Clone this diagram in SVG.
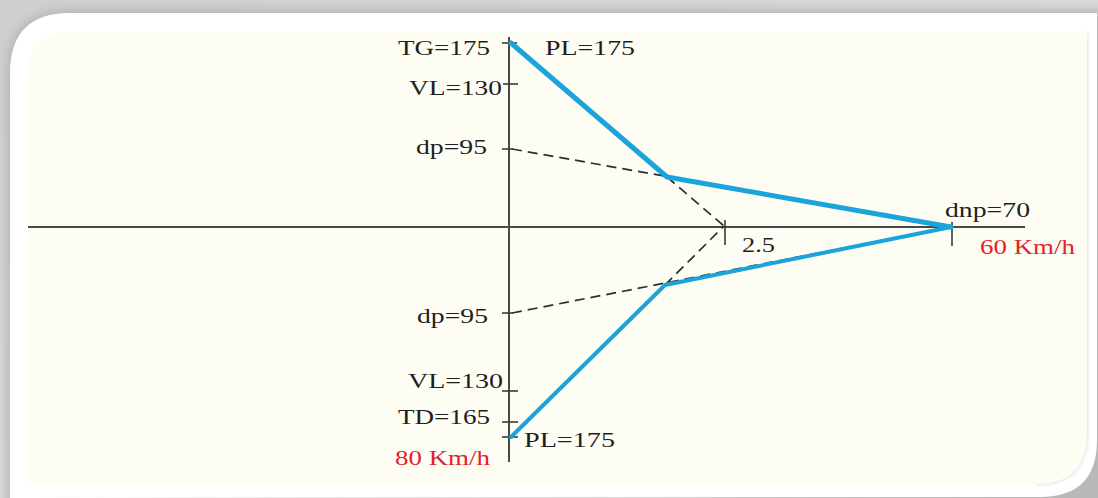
<svg xmlns="http://www.w3.org/2000/svg" width="1098" height="498" viewBox="0 0 1098 498">
  <defs>
    <linearGradient id="bgGrad" x1="0" y1="0" x2="1" y2="1">
      <stop offset="0" stop-color="#cfcfcf"/>
      <stop offset="1" stop-color="#e6e6e6"/>
    </linearGradient>
    <filter id="blur" x="-5%" y="-5%" width="110%" height="110%">
      <feGaussianBlur stdDeviation="5"/>
    </filter>
    <filter id="blur2" x="-5%" y="-5%" width="110%" height="110%">
      <feGaussianBlur stdDeviation="1.5"/>
    </filter>
  </defs>
  <style>
    .axis { stroke: #4a4a4a; stroke-width: 2; fill: none; }
    .tick { stroke: #3a3a3a; stroke-width: 1.6; fill: none; }
    .dash { stroke: #2e2e2e; stroke-width: 1.7; stroke-dasharray: 10 6; fill: none; }
    .blue { stroke: #1ba3dc; fill: none; stroke-linejoin: round; stroke-linecap: round; }
    .lbl { font-family: "Liberation Serif", "Times New Roman", serif; font-size: 20px; fill: #1e1e1e; }
    .red { font-family: "Liberation Serif", "Times New Roman", serif; font-size: 20px; fill: #e4202a; }
  </style>

  <!-- background / frame -->
  <rect x="0" y="0" width="1098" height="498" fill="url(#bgGrad)"/>
  <path d="M6,73 Q6,9 70,9 L1110,9 L1110,510 L6,510 Z" fill="#b8b8b8" filter="url(#blur)"/>
  <path d="M10,73 Q10,13 70,13 L1097,13 L1097,440 Q1097,497 1040,497 L10,498 Z" fill="#ffffff"/>
  <path d="M1087,33 L1087,432 Q1087,484 1037,484" fill="none" stroke="#dcdcdc" stroke-width="2" filter="url(#blur2)"/>
  <path d="M73,32 L1087,32 L1087,432 Q1087,484 1037,484 L28,484 L28,77 Q28,32 73,32 Z" fill="#fdfdf4"/>

  <!-- connectors / plot lines -->
  <g id="connectors">
    <line class="axis" x1="28" y1="227" x2="1025" y2="227"/>
    <line class="axis" x1="509" y1="37" x2="509" y2="462"/>
    <g id="ticks">
      <line class="tick" x1="502" y1="43" x2="517" y2="43"/>
      <line class="tick" x1="503" y1="84" x2="518" y2="84"/>
      <line class="tick" x1="502" y1="149" x2="513" y2="149"/>
      <line class="tick" x1="502" y1="313" x2="513" y2="313"/>
      <line class="tick" x1="502" y1="391" x2="518" y2="391"/>
      <line class="tick" x1="502" y1="422" x2="518" y2="422"/>
      <line class="tick" x1="502" y1="437" x2="518" y2="437"/>
      <line class="tick" x1="725" y1="220" x2="725" y2="245"/>
      <line class="tick" x1="952" y1="222" x2="952" y2="246"/>
    </g>
    <g id="dashed">
      <line class="dash" x1="512" y1="149" x2="951" y2="227"/>
      <line class="dash" x1="512" y1="313" x2="951" y2="227"/>
      <line class="dash" x1="667" y1="177" x2="724" y2="226"/>
      <line class="dash" x1="665" y1="285" x2="724" y2="226"/>
    </g>
    <g id="profile">
      <polyline class="blue" stroke-width="5" points="511,43 667,177 951,227"/>
      <polyline class="blue" stroke-width="4" points="511,437 665,285 951,227"/>
    </g>
  </g>

  <!-- labels -->
  <g id="label-TG"><text class="lbl" x="398" y="55" textLength="92" lengthAdjust="spacingAndGlyphs">TG=175</text></g>
  <g id="label-PL-top"><text class="lbl" x="545" y="55" textLength="90" lengthAdjust="spacingAndGlyphs">PL=175</text></g>
  <g id="label-VL-top"><text class="lbl" x="409" y="95" textLength="93" lengthAdjust="spacingAndGlyphs">VL=130</text></g>
  <g id="label-dp-top"><text class="lbl" x="416" y="154" textLength="71" lengthAdjust="spacingAndGlyphs">dp=95</text></g>
  <g id="label-dnp"><text class="lbl" x="945" y="217" textLength="85" lengthAdjust="spacingAndGlyphs">dnp=70</text></g>
  <g id="label-60"><text class="red" x="980" y="254" textLength="95" lengthAdjust="spacingAndGlyphs">60 Km/h</text></g>
  <g id="label-25"><text class="lbl" x="742" y="252" textLength="33" lengthAdjust="spacingAndGlyphs">2.5</text></g>
  <g id="label-dp-bot"><text class="lbl" x="417" y="323" textLength="71" lengthAdjust="spacingAndGlyphs">dp=95</text></g>
  <g id="label-VL-bot"><text class="lbl" x="408" y="388" textLength="95" lengthAdjust="spacingAndGlyphs">VL=130</text></g>
  <g id="label-TD"><text class="lbl" x="398" y="424" textLength="92" lengthAdjust="spacingAndGlyphs">TD=165</text></g>
  <g id="label-PL-bot"><text class="lbl" x="524" y="447" textLength="91" lengthAdjust="spacingAndGlyphs">PL=175</text></g>
  <g id="label-80"><text class="red" x="395" y="465" textLength="95" lengthAdjust="spacingAndGlyphs">80 Km/h</text></g>
</svg>
